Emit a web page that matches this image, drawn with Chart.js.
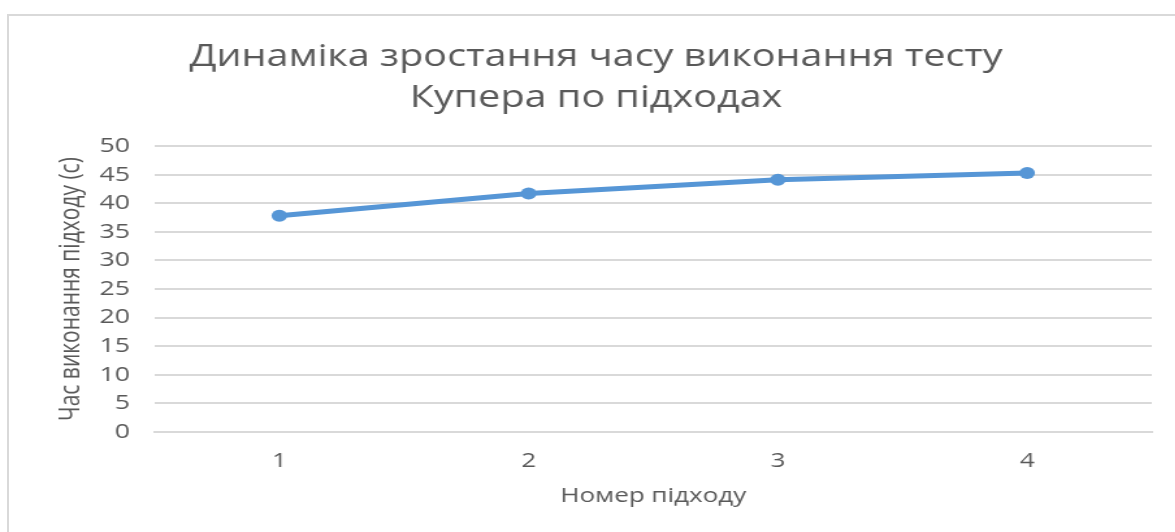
<!DOCTYPE html>
<html>
<head>
<meta charset="utf-8">
<script src="https://cdn.jsdelivr.net/npm/chart.js@4.4.1/dist/chart.umd.min.js"></script>
<style>
  html, body { margin: 0; padding: 0; background: #ffffff; overflow: hidden; }
  #wrap { position: relative; width: 1175px; height: 532px; overflow: hidden; }
  #frame { position: absolute; left: 7px; top: 14px; width: 1200px; height: 560px;
           border: 2px solid #d9d9d9; box-sizing: border-box; }
  /* the chart is drawn on a narrower canvas and widened to the full page width */
  #chart { position: absolute; left: 0; top: 0; transform-origin: 0 0; transform: scaleX(1.3); }
</style>
</head>
<body>
<div id="wrap">
  <div id="frame"></div>
  <canvas id="chart" width="904" height="532"></canvas>
</div>
<script>
// Номер підходу та час виконання тесту Купера (с)
const approaches = ['1', '2', '3', '4'];
const timeSeconds = [37.8, 41.7, 44.1, 45.3];
const yTicks = [0, 5, 10, 15, 20, 25, 30, 35, 40, 45, 50];

const titleLines = ['Динаміка зростання часу виконання тесту', 'Купера по підходах'];
const yTitle = 'Час виконання підходу (с)';
const xTitle = 'Номер підходу';

const grey = '#595959';
const gridGrey = '#d9d9d9';
const blue = '#5696d6';
const family = '"Open Sans", sans-serif';

new Chart(document.getElementById('chart'), {
  type: 'line',
  data: {
    labels: approaches,
    datasets: [{
      data: timeSeconds,
      borderColor: blue,
      backgroundColor: blue,
      borderWidth: 5,
      pointRadius: 6,
      pointHoverRadius: 6,
      pointBorderWidth: 0,
      tension: 0,
      fill: false
    }]
  },
  options: {
    responsive: false,
    animation: false,
    layout: { padding: { left: 31, right: 18, top: 0, bottom: 24 } },
    plugins: {
      legend: { display: false },
      tooltip: { enabled: false },
      title: {
        display: true,
        text: titleLines,
        color: grey,
        font: { family: family, size: 30.4, weight: 'normal', lineHeight: 1.35 },
        padding: { top: 37, bottom: 27 }
      }
    },
    scales: {
      x: {
        offset: true,
        grid: { display: false, drawTicks: false },
        border: { display: true, color: gridGrey, width: 2 },
        ticks: {
          color: grey,
          padding: 17,
          font: { family: family, size: 20 }
        },
        title: {
          display: true,
          text: xTitle,
          color: grey,
          font: { family: family, size: 20 },
          padding: { top: -6, bottom: 0 }
        }
      },
      y: {
        min: 0,
        max: 50,
        afterBuildTicks: (scale) => { scale.ticks = yTicks.map(v => ({ value: v })); },
        afterFit: (scale) => { scale.width = 88; },
        grid: { color: gridGrey, lineWidth: 2, drawTicks: false },
        border: { display: false },
        ticks: {
          color: grey,
          padding: 19,
          font: { family: family, size: 20.5 }
        },
        title: {
          display: true,
          text: yTitle,
          color: grey,
          font: { family: family, size: 21 },
          padding: { top: 11, bottom: 0 }
        }
      }
    }
  }
});
</script>
</body>
</html>
